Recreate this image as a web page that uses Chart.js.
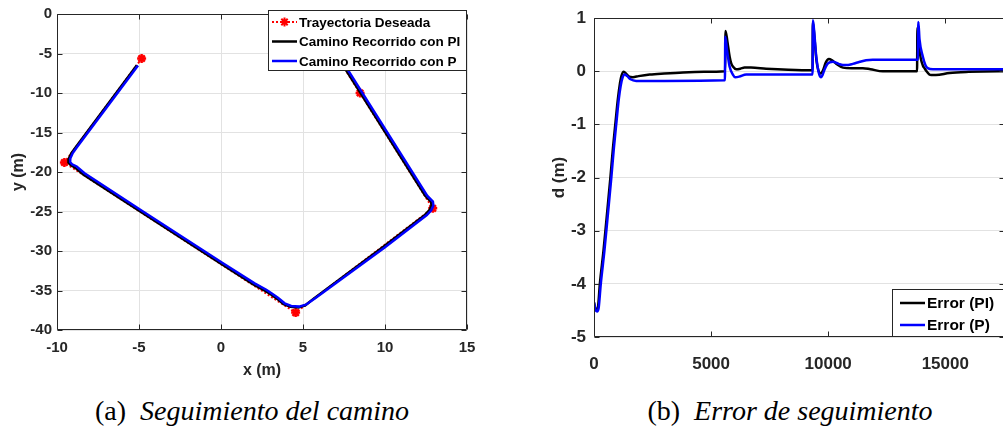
<!DOCTYPE html>
<html>
<head>
<meta charset="utf-8">
<script src="https://cdn.jsdelivr.net/npm/chart.js@4.4.0/dist/chart.umd.min.js"></script>
<style>
  html, body { margin: 0; padding: 0; background: #fff; overflow: hidden; width: 1003px; height: 428px; }
  canvas { position: absolute; top: 0; }
  #pathChart { left: 0; }
  #errorChart { left: 500px; }
  .cap { position: absolute; top: 394px; font-family: "Liberation Serif", "Times New Roman", serif;
         font-size: 28px; line-height: 34px; color: #000; white-space: nowrap; transform: translateX(-50%); }
</style>
</head>
<body>
<canvas id="pathChart" width="500" height="390"></canvas>
<canvas id="errorChart" width="530" height="390"></canvas>
<div class="cap" style="left:252px">(a)&nbsp; <i>Seguimiento del camino</i></div>
<div class="cap" style="left:790px">(b)&nbsp; <i>Error de seguimiento</i></div>
<script>
// (a) path following
const xTicksA = [-10, -5, 0, 5, 10, 15];
const yTicksA = [-40, -35, -30, -25, -20, -15, -10, -5, 0];

const desiredX = [-4.84, -9.55, 4.55, 12.91, 8.48, 6.4];
const desiredY = [-5.64, -18.8, -37.8, -24.6, -10.0, -3.2];

const piX = [-5.13, -8.87, -9.12, -9.28, -9.3, -9.18, -8.9, -8.4, -4.9, 0.0, 2.0, 2.7, 3.05, 3.41, 3.82, 4.23, 4.73, 5.14, 5.65, 9.9, 12.45, 12.72, 12.84, 12.8, 12.45, 7.74, 6.6];
const piY = [-6.48, -16.9, -17.6, -18.3, -18.8, -19.1, -19.45, -20.3, -25.02, -31.6, -34.25, -35.05, -35.5, -36.03, -36.74, -37.07, -37.16, -36.87, -36.03, -29.45, -25.4, -24.8, -24.2, -23.75, -23.0, -7.49, -3.8];

const pX = [-5.06, -8.8, -9.04, -9.19, -9.2, -9.08, -8.8, -8.32, -4.85, 0.05, 2.05, 2.76, 3.1, 3.47, 3.88, 4.28, 4.75, 5.18, 5.72, 9.98, 12.55, 12.82, 12.95, 12.92, 12.57, 7.86, 6.72];
const pY = [-6.52, -16.9, -17.6, -18.3, -18.75, -19.02, -19.3, -20.15, -24.87, -31.45, -34.1, -34.9, -35.38, -35.92, -36.62, -36.95, -37.04, -36.8, -36.0, -29.55, -25.45, -24.85, -24.25, -23.75, -23.0, -7.49, -3.8];

// (b) tracking error
const xTicksB = [0, 5000, 10000, 15000];
const yTicksB = [-5, -4, -3, -2, -1, 0, 1];

const errPiX = [0, 60, 120, 180, 250, 400, 530, 700, 810, 920, 1020, 1100, 1170, 1270, 1380, 1500, 1660, 1900, 2380, 3000, 3800, 4700,
  5600, 5615, 5700, 5790, 5860, 5930, 6070, 6250, 6430, 6700, 7350, 8300, 9330,
  9345, 9420, 9500, 9580, 9680, 9780, 9900, 10030, 10150, 10350, 10630, 11000, 11480, 11800, 12330, 13000, 13795,
  13810, 13870, 13950, 14050, 14110, 14200, 14320, 14400, 14600, 15180, 16000, 17300, 17550];
const errPiY = [-4.35, -4.47, -4.5, -4.4, -4.0, -3.4, -2.8, -2.0, -1.44, -0.95, -0.52, -0.25, -0.09, -0.01, -0.05, -0.1, -0.11, -0.09, -0.06, -0.04, -0.02, -0.01,
  0.0, 0.76, 0.55, 0.28, 0.15, 0.09, 0.04, 0.05, 0.07, 0.07, 0.05, 0.03, 0.02,
  0.93, 0.6, 0.2, 0.02, -0.04, 0.02, 0.17, 0.23, 0.21, 0.14, 0.07, 0.06, 0.06, 0.04, 0.0, 0.0, 0.0,
  0.82, 0.5, 0.25, 0.1, 0.06, 0.0, -0.06, -0.07, -0.07, -0.03, -0.01, 0.0, 0.0];

const errPX = [0, 60, 130, 200, 290, 440, 570, 740, 850, 960, 1060, 1140, 1220, 1310, 1420, 1560, 1800, 3000, 5590,
  5605, 5680, 5790, 5930, 6030, 6200, 6500, 7500, 9335,
  9350, 9420, 9490, 9600, 9700, 9760, 9840, 9950, 10060, 10200, 10450, 10630, 10850, 11050, 11350, 11620, 11900, 13830,
  13850, 13900, 14040, 14150, 14250, 14470, 17550];
const errPY = [-4.35, -4.48, -4.52, -4.45, -4.0, -3.4, -2.8, -2.0, -1.44, -0.95, -0.52, -0.27, -0.12, -0.06, -0.09, -0.15, -0.18, -0.18, -0.17,
  0.65, 0.4, 0.09, -0.06, -0.11, -0.1, -0.06, -0.06, -0.06,
  0.96, 0.65, 0.28, -0.03, -0.11, -0.07, 0.03, 0.13, 0.17, 0.18, 0.14, 0.12, 0.12, 0.14, 0.18, 0.21, 0.22, 0.22,
  0.93, 0.6, 0.28, 0.12, 0.06, 0.04, 0.04];

const pts = (xs, ys) => xs.map((x, i) => ({ x: x, y: ys[i] }));
const axisColor = '#262626';
const gridColor = '#e2e2e2';

Chart.defaults.font.family = '"Liberation Sans", Arial, Helvetica, sans-serif';
Chart.defaults.font.weight = 'bold';
Chart.defaults.color = axisColor;
Chart.defaults.animation = false;

// box round the axes, with inward ticks on all four sides
const frame = {
  id: 'frame',
  afterDatasetsDraw(chart) {
    const { ctx, chartArea: a, scales: { x, y } } = chart;
    const L = Math.round(a.left) + 0.5, R = Math.round(a.right) - 0.5;
    const T = Math.round(a.top) + 0.5, B = Math.round(a.bottom) - 0.5;
    ctx.save();
    ctx.strokeStyle = axisColor;
    ctx.lineWidth = 1;
    ctx.beginPath();
    ctx.rect(L, T, R - L, B - T);
    x.ticks.forEach(t => {
      const px = Math.round(x.getPixelForValue(t.value)) + 0.5;
      ctx.moveTo(px, B); ctx.lineTo(px, B - 5);
      ctx.moveTo(px, T); ctx.lineTo(px, T + 5);
    });
    y.ticks.forEach(t => {
      const py = Math.round(y.getPixelForValue(t.value)) + 0.5;
      ctx.moveTo(L, py); ctx.lineTo(L + 5, py);
      ctx.moveTo(R, py); ctx.lineTo(R - 5, py);
    });
    ctx.stroke();
    ctx.restore();
  }
};

// matlab-like legend box drawn at a fixed place
const boxLegend = {
  id: 'boxLegend',
  afterDraw(chart, args, o) {
    if (!o || !o.rows) return;
    const ctx = chart.ctx;
    const [bx, by, bw, bh] = o.box;
    ctx.save();
    ctx.fillStyle = '#fff';
    ctx.fillRect(bx, by, bw, bh);
    ctx.strokeStyle = axisColor;
    ctx.lineWidth = 1;
    ctx.strokeRect(bx + 0.5, by + 0.5, bw - 1, bh - 1);
    ctx.font = 'bold ' + o.size + 'px "Liberation Sans", Arial, sans-serif';
    ctx.textBaseline = 'middle';
    ctx.textAlign = 'left';
    o.rows.forEach(r => {
      ctx.strokeStyle = r.color;
      ctx.lineWidth = r.width;
      ctx.setLineDash(r.dash || []);
      ctx.beginPath();
      ctx.moveTo(o.sample[0], r.y);
      ctx.lineTo(o.sample[1], r.y);
      ctx.stroke();
      ctx.setLineDash([]);
      if (r.marker) {
        Chart.helpers.drawPoint(ctx, { pointStyle: 'star', radius: 4.5, borderWidth: 2.5 },
          (o.sample[0] + o.sample[1]) / 2, r.y);
      }
      ctx.fillStyle = '#000';
      ctx.fillText(r.label, o.textX, r.y + 1);
    });
    ctx.restore();
  }
};

const fixTicks = list => scale => { scale.ticks = list.map(v => ({ value: v })); };
const plain = v => String(v);

new Chart(document.getElementById('pathChart'), {
  type: 'line',
  data: {
    datasets: [
      { label: 'Trayectoria Deseada', data: pts(desiredX, desiredY), borderColor: '#ff0000', backgroundColor: '#ff0000',
        borderWidth: 2, borderDash: [2, 2], pointStyle: 'star', pointRadius: 4.5, pointBorderWidth: 2.5, order: 3 },
      { label: 'Camino Recorrido con PI', data: pts(piX, piY), borderColor: '#000000', borderWidth: 2.5,
        pointRadius: 0, tension: 0, order: 2 },
      { label: 'Camino Recorrido con P', data: pts(pX, pY), borderColor: '#0000ff', borderWidth: 2.5,
        pointRadius: 0, tension: 0, order: 1 }
    ]
  },
  options: {
    responsive: false,
    layout: { padding: { left: 0, right: 33, top: 11, bottom: 0 } },
    plugins: {
      legend: { display: false },
      tooltip: { enabled: false },
      boxLegend: {
        box: [268, 10, 199, 61], size: 13.5, sample: [272, 297], textX: 299,
        rows: [
          { label: 'Trayectoria Deseada', color: '#ff0000', width: 2, dash: [2, 2], marker: true, y: 22 },
          { label: 'Camino Recorrido con PI', color: '#000000', width: 2.5, y: 41.5 },
          { label: 'Camino Recorrido con P', color: '#0000ff', width: 2.5, y: 61 }
        ]
      }
    },
    scales: {
      x: {
        type: 'linear', min: -10, max: 15,
        afterBuildTicks: fixTicks(xTicksA),
        afterFit: s => { s.height = 60; },
        grid: { color: gridColor, drawTicks: false },
        border: { display: false },
        ticks: { font: { size: 15 }, padding: 9, maxRotation: 0, callback: plain },
        title: { display: true, text: 'x (m)', font: { size: 16 }, padding: { top: 0, bottom: 10 } }
      },
      y: {
        type: 'linear', min: -40, max: 0,
        afterBuildTicks: fixTicks(yTicksA),
        afterFit: s => { s.width = 57; },
        grid: { color: gridColor, drawTicks: false },
        border: { display: false },
        ticks: { font: { size: 15 }, padding: 5, callback: plain },
        title: { display: true, text: 'y (m)', font: { size: 16 }, padding: { top: 9, bottom: 0 } }
      }
    }
  },
  plugins: [frame, boxLegend]
});

new Chart(document.getElementById('errorChart'), {
  type: 'line',
  data: {
    datasets: [
      { label: 'Error (PI)', data: pts(errPiX, errPiY), borderColor: '#000000', borderWidth: 2.5,
        pointRadius: 0, cubicInterpolationMode: 'monotone', order: 2 },
      { label: 'Error (P)', data: pts(errPX, errPY), borderColor: '#0000ff', borderWidth: 2.5,
        pointRadius: 0, cubicInterpolationMode: 'monotone', order: 1 }
    ]
  },
  options: {
    responsive: false,
    layout: { padding: { left: 40, right: 25, top: 11, bottom: 0 } },
    plugins: {
      legend: { display: false },
      tooltip: { enabled: false },
      boxLegend: {
        box: [392, 289, 113, 48], size: 15.5, sample: [400, 425], textX: 427,
        rows: [
          { label: 'Error (PI)', color: '#000000', width: 2.5, y: 303 },
          { label: 'Error (P)', color: '#0000ff', width: 2.5, y: 325 }
        ]
      }
    },
    scales: {
      x: {
        type: 'linear', min: 0, max: 17550,
        afterBuildTicks: fixTicks(xTicksB),
        afterFit: s => { s.height = 53; },
        grid: { display: false },
        border: { display: false },
        ticks: { font: { size: 17 }, padding: 9.5, maxRotation: 0, callback: plain }
      },
      y: {
        type: 'linear', min: -5, max: 1,
        afterBuildTicks: fixTicks(yTicksB),
        afterFit: s => { s.width = 54; },
        grid: { color: gridColor, drawTicks: false },
        border: { display: false },
        ticks: { font: { size: 17 }, padding: 8, callback: plain },
        title: { display: true, text: 'd (m)', font: { size: 17 }, padding: { top: 9, bottom: 0 } }
      }
    }
  },
  plugins: [frame, boxLegend]
});
</script>
</body>
</html>
